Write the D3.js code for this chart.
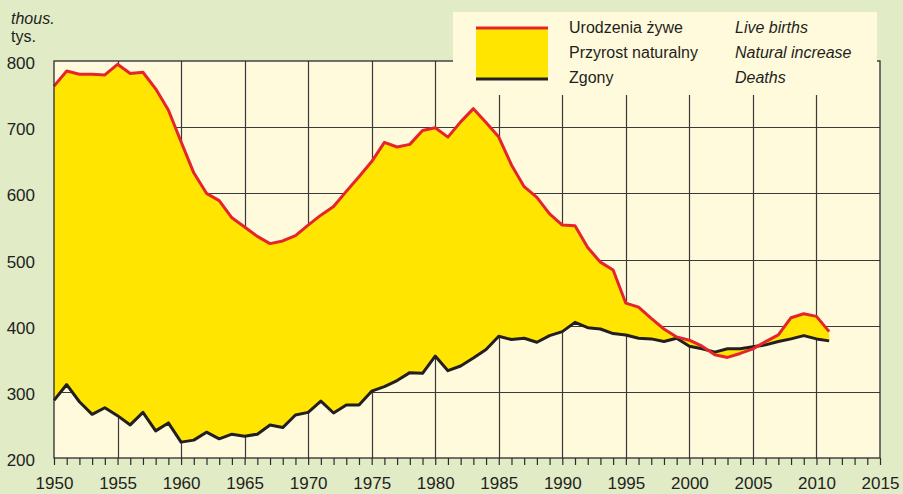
<!DOCTYPE html>
<meta charset="utf-8">
<style>

    html, body {
        width: 903px;
        height: 494px;
        margin: 0;
        padding: 0;
        background: #e1ebc6;
        overflow: hidden;
    }

    svg text {
        font-family: "Liberation Sans", Arial, sans-serif;
        fill: #231f20;
    }

    .axis path {
        display: none;
    }

    .axis line {
        stroke: #2b2b2b;
        stroke-width: 1.2px;
    }

    .grid line {
        stroke: #3a3a3a;
        stroke-width: 1.2px;
    }

</style>
<body>
<div id="chart"></div>
<script src="https://d3js.org/d3.v7.min.js"></script>
<script>

    // data (thousands)
    var years = d3.range(1950, 2012);

    var births = [762, 785, 780, 780, 779, 795, 781, 783, 758, 726,
                  678, 631, 600, 589, 563, 549, 535, 524, 528, 536,
                  552, 567, 580, 603, 625, 648, 677, 670, 674, 695,
                  699, 685, 708, 728, 707, 685, 643, 610, 594, 569,
                  552, 551, 518, 496, 484, 434, 428, 411, 395, 383,
                  378, 369, 356, 352, 358, 365, 376, 386, 412, 418,
                  414, 391];

    var deaths = [287, 311, 285, 266, 276, 264, 250, 269, 241, 253,
                  224, 227, 239, 229, 236, 233, 236, 250, 246, 265,
                  269, 286, 268, 280, 280, 301, 308, 317, 329, 328,
                  354, 332, 339, 351, 364, 384, 379, 381, 375, 385,
                  391, 405, 397, 395, 388, 386, 381, 380, 376, 381,
                  369, 365, 360, 365, 365, 368, 371, 376, 380, 385,
                  380, 377];

    var yTicks = [200, 300, 400, 500, 600, 700, 800];
    var xTicks = d3.range(1950, 2016);

    var legendPl = ["Urodzenia żywe", "Przyrost naturalny", "Zgony"];
    var legendEn = ["Live births", "Natural increase", "Deaths"];

    var data = years.map(function(yr, i) {
        return {year: yr, births: births[i], deaths: deaths[i]};
    });

    var margin = {top: 61, right: 23, bottom: 36, left: 54},
        width = 903 - margin.left - margin.right,
        height = 494 - margin.top - margin.bottom;

    var x = d3.scaleLinear().domain([1950, 2015]).range([0, width]),
        y = d3.scaleLinear().domain([200, 800]).range([height, 0]);

    var svg = d3.select("#chart").append("svg")
        .attr("width", 903)
        .attr("height", 494);

    var g = svg.append("g")
        .attr("transform", "translate(" + margin.left + "," + margin.top + ")");

    // plot background
    g.append("rect")
        .attr("width", width)
        .attr("height", height)
        .attr("fill", "#fffadc");

    // grid
    var grid = g.append("g").attr("class", "grid");

    grid.selectAll(".v")
        .data(xTicks.filter(function(d) { return d % 5 === 0 && d > 1950 && d < 2015; }))
        .enter().append("line")
        .attr("class", "v")
        .attr("x1", function(d) { return Math.round(x(d)) + 0.5; })
        .attr("x2", function(d) { return Math.round(x(d)) + 0.5; })
        .attr("y1", 0)
        .attr("y2", height);

    grid.selectAll(".h")
        .data(yTicks.filter(function(d) { return d > 200 && d < 800; }))
        .enter().append("line")
        .attr("class", "h")
        .attr("x1", 0)
        .attr("x2", width)
        .attr("y1", function(d) { return Math.round(y(d)) + 0.5; })
        .attr("y2", function(d) { return Math.round(y(d)) + 0.5; });

    // natural increase = area between the two lines
    var area = d3.area()
        .x(function(d) { return x(d.year); })
        .y0(function(d) { return y(d.deaths); })
        .y1(function(d) { return y(d.births); });

    g.append("path")
        .datum(data)
        .attr("fill", "#ffe500")
        .attr("d", area);

    var lineDeaths = d3.line()
        .x(function(d) { return x(d.year); })
        .y(function(d) { return y(d.deaths); });

    var lineBirths = d3.line()
        .x(function(d) { return x(d.year); })
        .y(function(d) { return y(d.births); });

    g.append("path")
        .datum(data)
        .attr("fill", "none")
        .attr("stroke", "#231f20")
        .attr("stroke-width", 3)
        .attr("stroke-linejoin", "round")
        .attr("d", lineDeaths);

    g.append("path")
        .datum(data)
        .attr("fill", "none")
        .attr("stroke", "#e4262c")
        .attr("stroke-width", 3)
        .attr("stroke-linejoin", "round")
        .attr("d", lineBirths);

    // frame
    g.append("rect")
        .attr("width", width)
        .attr("height", height)
        .attr("fill", "none")
        .attr("stroke", "#2b2b2b")
        .attr("stroke-width", 1.3);

    // axes
    var xAxis = d3.axisBottom(x)
        .tickValues(xTicks)
        .tickSize(7)
        .tickPadding(12)
        .tickFormat(function(d) { return d % 5 === 0 ? d : ""; });

    g.append("g")
        .attr("class", "axis axis--x")
        .attr("transform", "translate(0," + height + ")")
        .call(xAxis)
        .selectAll("text")
        .style("font-size", "17px");

    var yAxis = d3.axisLeft(y)
        .tickValues(yTicks)
        .tickSize(0)
        .tickPadding(19);

    g.append("g")
        .attr("class", "axis axis--y")
        .call(yAxis)
        .selectAll("text")
        .attr("dy", "0.45em")
        .style("font-size", "17px");

    // unit label
    svg.append("text")
        .attr("x", 11)
        .attr("y", 24)
        .style("font-size", "16px")
        .style("font-style", "italic")
        .text("thous.");

    svg.append("text")
        .attr("x", 11)
        .attr("y", 42)
        .style("font-size", "16px")
        .text("tys.");

    // legend
    var legend = svg.append("g");

    legend.append("rect")
        .attr("x", 453)
        .attr("y", 12)
        .attr("width", 424)
        .attr("height", 83)
        .attr("fill", "#fffadc");

    legend.append("rect")
        .attr("x", 476)
        .attr("y", 28)
        .attr("width", 72)
        .attr("height", 51)
        .attr("fill", "#ffe500");

    legend.append("line")
        .attr("x1", 476).attr("x2", 548)
        .attr("y1", 28).attr("y2", 28)
        .attr("stroke", "#e4262c")
        .attr("stroke-width", 3);

    legend.append("line")
        .attr("x1", 476).attr("x2", 548)
        .attr("y1", 79).attr("y2", 79)
        .attr("stroke", "#231f20")
        .attr("stroke-width", 3);

    legend.selectAll(".pl")
        .data(legendPl)
        .enter().append("text")
        .attr("class", "pl")
        .attr("x", 569)
        .attr("y", function(d, i) { return 33 + i * 25; })
        .style("font-size", "16px")
        .text(function(d) { return d; });

    legend.selectAll(".en")
        .data(legendEn)
        .enter().append("text")
        .attr("class", "en")
        .attr("x", 735)
        .attr("y", function(d, i) { return 33 + i * 25; })
        .style("font-size", "16px")
        .style("font-style", "italic")
        .text(function(d) { return d; });

</script>
</body>
